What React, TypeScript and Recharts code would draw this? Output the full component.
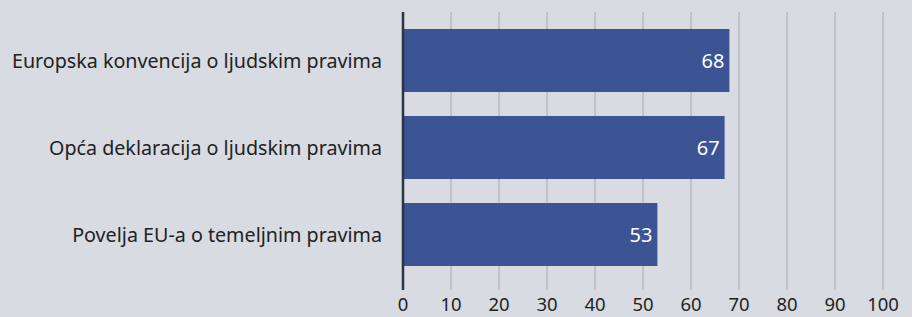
import { BarChart, Bar, XAxis, YAxis, CartesianGrid, LabelList } from 'recharts';

const kategorije = [
  'Europska konvencija o ljudskim pravima',
  'Opća deklaracija o ljudskim pravima',
  'Povelja EU-a o temeljnim pravima',
];
const vrijednosti = [68, 67, 53];
const xTicks = [0, 10, 20, 30, 40, 50, 60, 70, 80, 90, 100];

const podaci = kategorije.map((naziv, i) => ({ naziv, vrijednost: vrijednosti[i] }));

const FONT = '"Noto Sans", "Open Sans", sans-serif';

function YTick(props: any) {
  const { x, y, payload } = props;
  return (
    <text x={x - 13} y={y} dy={7} textAnchor="end" fill="#222" fontSize={19.7} fontFamily={FONT}>
      {payload.value}
    </text>
  );
}

function XTick(props: any) {
  const { x, y, payload } = props;
  return (
    <text x={x} y={y} dy={13} textAnchor="middle" fill="#222" fontSize={18.5} fontFamily={FONT}>
      {payload.value}
    </text>
  );
}

export default function App() {
  return (
    <div style={{ position: 'absolute', left: 0, top: 0, width: 912, height: 317, background: '#d9dbe3' }}>
      <BarChart
        width={912}
        height={317}
        data={podaci}
        layout="vertical"
        margin={{ top: 12, right: 29, bottom: 0, left: 0 }}
      >
        <CartesianGrid horizontal={false} stroke="#b9babf" strokeWidth={1.5} />
        <XAxis
          type="number"
          domain={[0, 100]}
          ticks={xTicks}
          axisLine={false}
          tickLine={false}
          height={27}
          tick={<XTick />}
          interval={0}
        />
        <YAxis
          type="category"
          dataKey="naziv"
          width={403}
          padding={{ top: 5, bottom: 12 }}
          axisLine={{ stroke: '#2a3340', strokeWidth: 2.5 }}
          tickLine={false}
          tick={<YTick />}
        />
        <Bar dataKey="vrijednost" fill="#3c5394" barSize={63} isAnimationActive={false}>
          <LabelList
            dataKey="vrijednost"
            position="insideRight"
            offset={5}
            fill="#ffffff"
            fontSize={20}
            fontFamily={FONT}
          />
        </Bar>
      </BarChart>
    </div>
  );
}
